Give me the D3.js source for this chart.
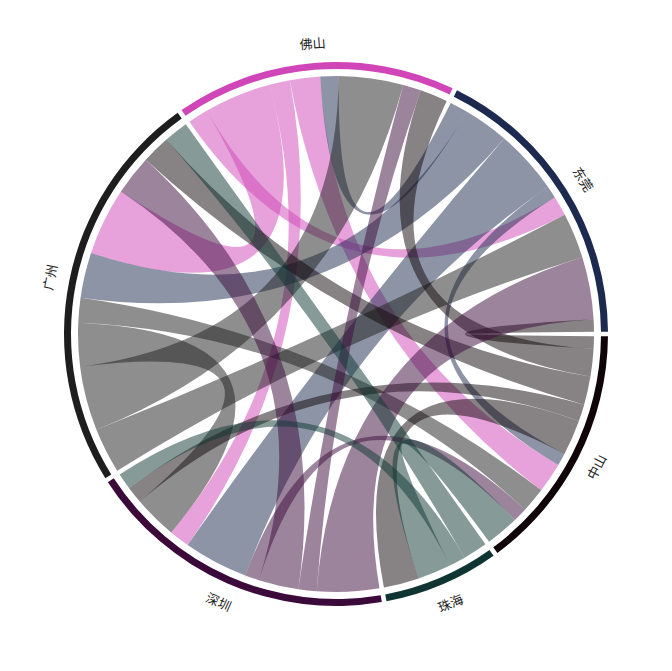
<!DOCTYPE html>
<html>
<head>
<meta charset="utf-8">
<script src="https://cdn.jsdelivr.net/npm/d3@7/dist/d3.min.js"></script>
<style>
  html, body { margin: 0; padding: 0; background: #ffffff; }
  svg { display: block; }
</style>
</head>
<body>
<svg id="chart" width="672" height="671"></svg>
<script>
// Sectors, clockwise from 3 o'clock
const sectors = ["中山", "珠海", "深圳", "广州", "佛山", "东莞"];
const sectorColors = ["#0f0508", "#0e3532", "#3b0a3b", "#1e1e1e", "#d045b8", "#1b2a4e"];
// order used for links inside each sector
const linkSortOrder = ["东莞", "佛山", "广州", "深圳", "中山", "珠海"];

// Links (from -> to, value)
const linkFrom = ["佛山","佛山","佛山","佛山",
                  "东莞","东莞","东莞","东莞",
                  "广州","广州","广州","广州",
                  "中山","中山","中山","中山","中山",
                  "深圳","深圳","深圳","深圳",
                  "珠海","珠海","珠海"];
const linkTo   = ["东莞","广州","深圳","中山",
                  "佛山","广州","深圳","中山",
                  "东莞","佛山","深圳","中山",
                  "东莞","佛山","广州","深圳","珠海",
                  "东莞","佛山","广州","中山",
                  "广州","深圳","中山"];
const linkValue = [4.5, 15.2, 4.6, 6.8,
                   4.1, 10.2, 14.5, 2.8,
                   10.2, 14.5, 9.8, 5.6,
                   2.8, 6.2, 6.4, 3.8, 8.0,
                   14.0, 4.1, 9.0, 3.2,
                   5.5, 3.7, 7.5];

const width = 672, height = 671;
const cx = 336, cy = 334;
const ribbonR = 258, arcInner = 265, arcOuter = 272, labelR = 292;
const gap = 1 * Math.PI / 180;

const svg = d3.select("#chart");
const g = svg.append("g").attr("transform", `translate(${cx},${cy})`);

const links = linkFrom.map((f, i) => ({from: f, to: linkTo[i], value: linkValue[i]}));
const totals = sectors.map(s => d3.sum(links, l => (l.from === s ? l.value : 0) + (l.to === s ? l.value : 0)));
const k = (2 * Math.PI - sectors.length * gap) / d3.sum(totals);
const angle = d3.scaleLinear().domain([0, 1]).range([0, k]);

const groups = [];
let pos = Math.PI / 2 + gap / 2;
sectors.forEach((s, si) => {
  const start = pos;
  const outgoing = links.filter(l => l.from === s)
    .sort((a, b) => linkSortOrder.indexOf(a.to) - linkSortOrder.indexOf(b.to));
  const incoming = links.filter(l => l.to === s)
    .sort((a, b) => linkSortOrder.indexOf(a.from) - linkSortOrder.indexOf(b.from));
  outgoing.forEach(l => {
    l.source = {startAngle: pos, endAngle: pos + angle(l.value)};
    pos += angle(l.value);
  });
  incoming.forEach(l => {
    l.target = {startAngle: pos, endAngle: pos + angle(l.value)};
    pos += angle(l.value);
  });
  groups.push({name: s, color: sectorColors[si], startAngle: start, endAngle: pos});
  pos += gap;
});

const colorOf = d3.scaleOrdinal().domain(sectors).range(sectorColors);

const ribbon = d3.ribbon().radius(ribbonR);
g.append("g").selectAll("path")
  .data(links)
  .join("path")
  .attr("d", ribbon)
  .attr("fill", d => colorOf(d.from))
  .attr("fill-opacity", 0.5)
  .attr("stroke", "none");

const arc = d3.arc().innerRadius(arcInner).outerRadius(arcOuter);
g.append("g").selectAll("path")
  .data(groups)
  .join("path")
  .attr("d", arc)
  .attr("fill", d => d.color);

g.append("g").selectAll("text")
  .data(groups)
  .join("text")
  .attr("transform", d => {
    const a = (d.startAngle + d.endAngle) / 2;
    const x = labelR * Math.sin(a), y = -labelR * Math.cos(a);
    let deg = a * 180 / Math.PI % 360;
    let rot = (deg > 90 && deg < 270) ? deg - 180 : deg;
    if (rot > 180) rot -= 360;
    return `translate(${x},${y}) rotate(${rot})`;
  })
  .attr("text-anchor", "middle")
  .attr("dominant-baseline", "central")
  .attr("font-family", "'Noto Sans CJK SC', sans-serif")
  .attr("font-size", 13)
  .attr("fill", "#222")
  .text(d => d.name);
</script>
</body>
</html>
